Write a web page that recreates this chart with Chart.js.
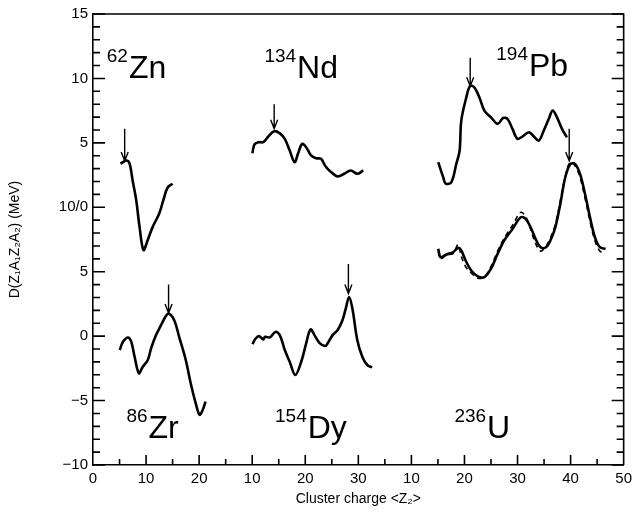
<!DOCTYPE html>
<html>
<head>
<meta charset="utf-8">
<script src="https://cdn.jsdelivr.net/npm/chart.js@4.4.1/dist/chart.umd.min.js"></script>
<style>
  html, body { margin: 0; padding: 0; background: #fff; }
</style>
</head>
<body>
<canvas id="myChart" width="637" height="512"></canvas>
<script>
// valores: Z = carga do cluster, D em MeV (cada painel na sua escala)
const znZ = [5.17, 6.29, 6.9, 7.46, 8.15, 8.77, 9.51, 10.3, 11.25, 12.5, 13.43, 14.05, 15.0];
const znD = [3.38, 3.63, 3.38, 2.09, 0.54, -1.52, -3.32, -2.55, -1.52, -0.46, 0.8, 1.52, 1.83];

const zrZ = [5.04, 5.65, 6.59, 7.22, 7.84, 8.64, 9.38, 10.32, 10.95, 11.88, 12.82, 13.62, 14.24, 15.3, 16.23, 17.48, 18.41, 19.35, 20.09, 20.7, 21.2];
const zrD = [-1.08, -0.44, -0.1, -0.44, -1.6, -2.88, -2.37, -1.85, -0.95, 0.08, 0.85, 1.49, 1.75, 1.24, -0.05, -1.85, -3.65, -5.2, -6.1, -5.7, -5.08];

const ndZ = [10.04, 10.41, 11.16, 12.09, 13.02, 14.14, 15.2, 16.14, 17.07, 18.0, 18.62, 19.42, 20.17, 21.1, 22.03, 22.97, 23.71, 24.53, 26.08, 27.33, 28.56, 29.81, 30.93];
const ndD = [4.2, 4.87, 5.05, 5.05, 5.49, 5.9, 5.74, 5.31, 4.4, 3.5, 4.15, 4.92, 4.66, 4.02, 3.81, 3.76, 3.25, 2.86, 2.4, 2.6, 2.86, 2.6, 2.86];

const dyZ = [10.04, 10.65, 11.29, 12.09, 12.41, 13.34, 14.38, 15.2, 16.14, 17.07, 18.12, 19.24, 20.17, 20.99, 21.74, 22.67, 23.71, 24.22, 25.15, 26.08, 27.01, 27.63, 28.26, 28.88, 29.81, 30.75, 31.68, 32.61];
const dyD = [-0.62, -0.18, 0, -0.26, -0.05, -0.1, 0.33, 0.08, -1.08, -1.99, -3.01, -1.99, -0.56, 0.52, 0.08, -0.52, -0.77, -0.56, 0.08, 0.46, 1.24, 2.14, 3.04, 2.14, -0.31, -1.6, -2.24, -2.42];

const pbZ = [15.06, 15.99, 16.47, 17.54, 18.47, 19.09, 19.4, 20.34, 21.08, 21.88, 22.82, 23.75, 25.0, 26.25, 27.29, 28.12, 29.05, 29.98, 30.92, 32.15, 33.08, 34.01, 34.94, 35.88, 36.62, 37.44, 38.38, 39.31];
const pbD = [3.5, 2.34, 1.83, 1.96, 3.38, 4.4, 6.72, 8.52, 9.43, 9.3, 8.52, 7.5, 6.98, 6.47, 6.93, 6.85, 6.08, 5.31, 5.49, 5.82, 5.49, 5.18, 5.95, 6.85, 7.5, 6.98, 6.08, 5.43];

const uZ = [15.06, 15.49, 16.6, 17.85, 18.79, 19.4, 20.21, 21.27, 22.52, 23.75, 25.0, 26.25, 27.48, 29.05, 30.6, 31.53, 32.46, 33.4, 34.33, 35.39, 36.19, 37.13, 38.06, 38.99, 39.93, 40.86, 41.79, 42.72, 43.66, 44.59, 45.52, 46.59];
const uD = [6.78, 6.13, 6.34, 6.51, 6.85, 6.65, 5.87, 5.1, 4.64, 4.58, 5.23, 6.39, 7.42, 8.32, 9.22, 9.1, 8.45, 7.55, 6.9, 6.9, 7.42, 8.45, 10.26, 12.31, 13.35, 13.35, 12.57, 11.03, 9.22, 7.67, 6.9, 6.78];
const uD2 = [6.6, 6.0, 6.3, 6.4, 7.1, 6.2, 5.4, 4.9, 4.5, 4.6, 5.4, 6.6, 7.6, 8.6, 9.6, 9.3, 8.3, 7.2, 6.6, 7.0, 7.6, 8.7, 10.5, 12.4, 13.5, 13.2, 12.3, 10.7, 8.9, 7.4, 6.6, 6.5];

// setas (Z, inicio, ponta) na ordem Zn, Zr, Nd, Dy, Pb, U
const arrowZ = [5.97, 14.24, 14.14, 28.13, 21.08, 39.74];
const arrowTop = [6.1, 4.0, 8.0, 5.6, 11.6, 16.1];
const arrowTip = [3.6, 1.8, 6.1, 3.3, 9.4, 13.6];

// rotulos dos nucleos
const nucMass = ['62', '86', '134', '154', '194', '236'];
const nucName = ['Zn', 'Zr', 'Nd', 'Dy', 'Pb', 'U'];

// eixos compostos
const xTickLabels = ['0', '10', '20', '10', '20', '30', '10', '20', '30', '40', '50'];
const yTickLabels = ['\u221210', '\u22125', '0', '5', '10/0', '5', '10', '15'];

// deslocamento de cada painel no eixo comum
const panelDx = [0, 0, 20, 20, 50, 50];
const panelDy = [10, 0, 10, 0, 10, 0];
const labelX = [2.6, 6.3, 32.3, 34.3, 76.0, 68.1];
const labelY = [20.0, -7.9, 20.0, -7.9, 20.2, -7.9];

function serie(zs, ds, p, dashed) {
    return {
        data: zs.map((z, i) => ({x: z + panelDx[p], y: ds[i] + panelDy[p]})),
        borderColor: '#000',
        borderWidth: dashed ? 1.6 : 2.6,
        borderDash: dashed ? [5, 4] : [],
        pointRadius: 0,
        tension: 0.35,
        fill: false
    };
}

const datasets = [
    serie(znZ, znD, 0),
    serie(zrZ, zrD, 1),
    serie(ndZ, ndD, 2),
    serie(dyZ, dyD, 3),
    serie(pbZ, pbD, 4),
    serie(uZ, uD2, 5, true),
    serie(uZ, uD, 5)
];

const decor = {
    id: 'decor',
    afterDatasetsDraw(chart) {
        const {ctx, chartArea: a, scales: {x, y}} = chart;
        ctx.save();
        ctx.strokeStyle = '#000';
        ctx.fillStyle = '#000';
        ctx.lineWidth = 1.6;
        ctx.beginPath();
        ctx.moveTo(a.left, a.top);
        ctx.lineTo(a.right, a.top);
        ctx.lineTo(a.right, a.bottom);
        ctx.stroke();
        // marcas para dentro
        ctx.beginPath();
        for (let v = -10; v <= 25; v++) {
            const py = y.getPixelForValue(v);
            const len = v % 5 === 0 ? 12 : 7;
            ctx.moveTo(a.left, py); ctx.lineTo(a.left + len, py);
            ctx.moveTo(a.right, py); ctx.lineTo(a.right - len, py);
        }
        for (let v = 5; v < 100; v += 5) {
            const px = x.getPixelForValue(v);
            const len = v % 10 === 0 ? 10 : 6;
            ctx.moveTo(px, a.bottom); ctx.lineTo(px, a.bottom - len);
        }
        ctx.stroke();
        // setas
        ctx.lineWidth = 1.4;
        for (let i = 0; i < arrowZ.length; i++) {
            const px = x.getPixelForValue(arrowZ[i] + panelDx[i]);
            const p1 = y.getPixelForValue(arrowTop[i] + panelDy[i]);
            const p2 = y.getPixelForValue(arrowTip[i] + panelDy[i]);
            ctx.beginPath();
            ctx.moveTo(px, p1); ctx.lineTo(px, p2);
            ctx.moveTo(px - 3.5, p2 - 9); ctx.lineTo(px, p2); ctx.lineTo(px + 3.5, p2 - 9);
            ctx.stroke();
        }
        // nomes dos nucleos
        for (let i = 0; i < nucName.length; i++) {
            const px = x.getPixelForValue(labelX[i]);
            const py = y.getPixelForValue(labelY[i]);
            ctx.font = '19px "Liberation Sans", Arial, sans-serif';
            ctx.fillText(nucMass[i], px, py - 16);
            const w = ctx.measureText(nucMass[i]).width;
            ctx.font = '32px "Liberation Sans", Arial, sans-serif';
            ctx.fillText(nucName[i], px + w + 1, py);
        }
        ctx.restore();
    }
};

const ctx = document.getElementById('myChart');

const config = {
    type: 'line',
    data: { datasets },
    options: {
        responsive: false,
        animation: false,
        layout: { padding: { top: 12, right: 8 } },
        plugins: { legend: { display: false }, tooltip: { enabled: false } },
        scales: {
            x: {
                type: 'linear',
                min: 0,
                max: 100,
                afterFit: (s) => { s.height = 47; },
                ticks: {
                    stepSize: 10,
                    autoSkip: false,
                    maxRotation: 0,
                    padding: 5,
                    color: '#000',
                    font: { family: '"Liberation Sans", Arial', size: 15 },
                    callback: (v) => xTickLabels[Math.round(v / 10)]
                },
                grid: { display: false, drawTicks: false },
                border: { color: '#000', width: 1.6 },
                title: {
                    display: true,
                    text: 'Cluster charge <Z\u2082>',
                    color: '#000',
                    font: { family: '"Liberation Sans", Arial', size: 14 },
                    padding: { top: 1 }
                }
            },
            y: {
                min: -10,
                max: 25,
                afterFit: (s) => { s.width = 93; },
                ticks: {
                    stepSize: 5,
                    padding: 5,
                    color: '#000',
                    font: { family: '"Liberation Sans", Arial', size: 15 },
                    callback: (v) => yTickLabels[Math.round((v + 10) / 5)]
                },
                grid: { display: false, drawTicks: false },
                border: { color: '#000', width: 1.6 },
                title: {
                    display: true,
                    text: 'D(Z\u2081A\u2081Z\u2082A\u2082) (MeV)',
                    color: '#000',
                    font: { family: '"Liberation Sans", Arial', size: 14 },
                    padding: { top: 7, bottom: 0 }
                }
            }
        }
    },
    plugins: [decor]
};

const Mychart = new Chart(ctx, config);
</script>
</body>
</html>
